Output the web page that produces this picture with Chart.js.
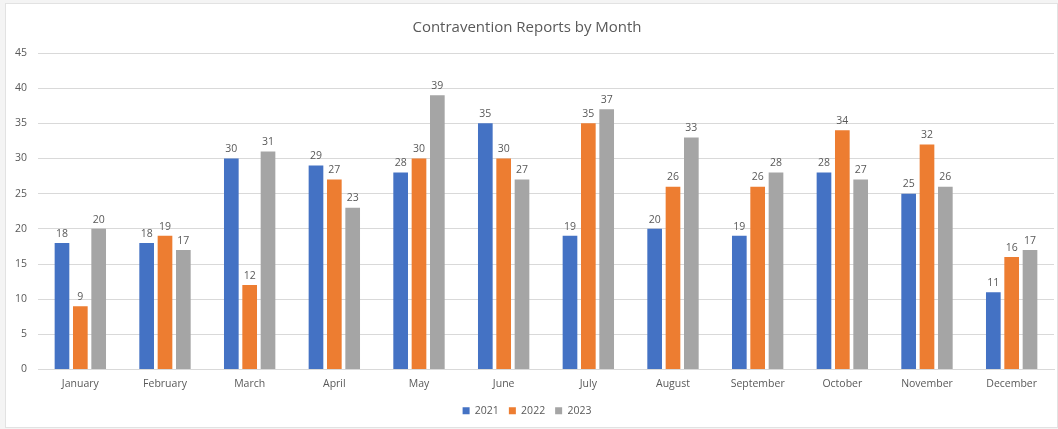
<!DOCTYPE html>
<html>
<head>
<meta charset="utf-8">
<script src="https://cdn.jsdelivr.net/npm/chart.js@4/dist/chart.umd.min.js"></script>
<style>
  html, body { margin: 0; padding: 0; background: #f4f4f4; }
  #wrap { position: absolute; left: 0; top: 0; width: 1058px; height: 429px; }
  #frame { position: absolute; left: 5px; top: 3px; width: 1051px; height: 423px;
           border: 1px solid #e2e2e2; background: #fff; }
  canvas { position: absolute; left: 0; top: 0; }
</style>
</head>
<body>
<div id="wrap">
  <div id="frame"></div>
  <canvas id="chart" width="1058" height="429"></canvas>
</div>
<script>
// data
const months = ['January', 'February', 'March', 'April', 'May', 'June',
                'July', 'August', 'September', 'October', 'November', 'December'];
const reports2021 = [18, 18, 30, 29, 28, 35, 19, 20, 19, 28, 25, 11];
const reports2022 = [9, 19, 12, 27, 30, 30, 35, 26, 26, 34, 32, 16];
const reports2023 = [20, 17, 31, 23, 39, 27, 37, 33, 28, 27, 26, 17];
const yTicks = [0, 5, 10, 15, 20, 25, 30, 35, 40, 45];

const FONT = 'Open Sans';
const TEXT = '#595959';

// value labels above each bar
const barLabels = {
  id: 'barLabels',
  afterDatasetsDraw(chart) {
    const ctx = chart.ctx;
    ctx.save();
    ctx.font = `10.5px "${FONT}"`;
    ctx.fillStyle = TEXT;
    ctx.textAlign = 'center';
    ctx.textBaseline = 'bottom';
    chart.data.datasets.forEach((ds, i) => {
      chart.getDatasetMeta(i).data.forEach((bar, j) => {
        ctx.fillText(String(ds.data[j]), bar.x, bar.y - 4);
      });
    });
    ctx.restore();
  }
};

new Chart(document.getElementById('chart'), {
  type: 'bar',
  data: {
    labels: months,
    datasets: [
      { label: '2021', data: reports2021, backgroundColor: '#4472C4' },
      { label: '2022', data: reports2022, backgroundColor: '#ED7D31' },
      { label: '2023', data: reports2023, backgroundColor: '#A5A5A5' }
    ]
  },
  options: {
    responsive: false,
    animation: false,
    categoryPercentage: 0.65,
    barPercentage: 0.8,
    layout: { padding: { left: 0, right: 4, top: 0, bottom: 3 } },
    plugins: {
      title: {
        display: true,
        text: 'Contravention Reports by Month',
        color: TEXT,
        font: { family: FONT, size: 15, weight: 'normal' },
        padding: { top: 19, bottom: 16 }
      },
      legend: {
        position: 'bottom',
        labels: {
          color: TEXT,
          font: { family: FONT, size: 10.5 },
          boxWidth: 7, boxHeight: 7, padding: 10
        }
      },
      tooltip: { enabled: false }
    },
    scales: {
      x: {
        grid: { display: false, drawTicks: false },
        border: { display: true, color: '#d9d9d9' },
        ticks: { color: TEXT, font: { family: FONT, size: 10.5 }, padding: 8 },
        afterFit: s => { s.height = 26; }
      },
      y: {
        min: 0, max: 45,
        afterBuildTicks: s => { s.ticks = yTicks.map(v => ({ value: v })); },
        grid: { color: '#d9d9d9', drawTicks: false },
        border: { display: false },
        ticks: { color: TEXT, font: { family: FONT, size: 10.5 }, padding: 11 },
        afterFit: s => { s.width = 38; }
      }
    }
  },
  plugins: [barLabels]
});
</script>
</body>
</html>
